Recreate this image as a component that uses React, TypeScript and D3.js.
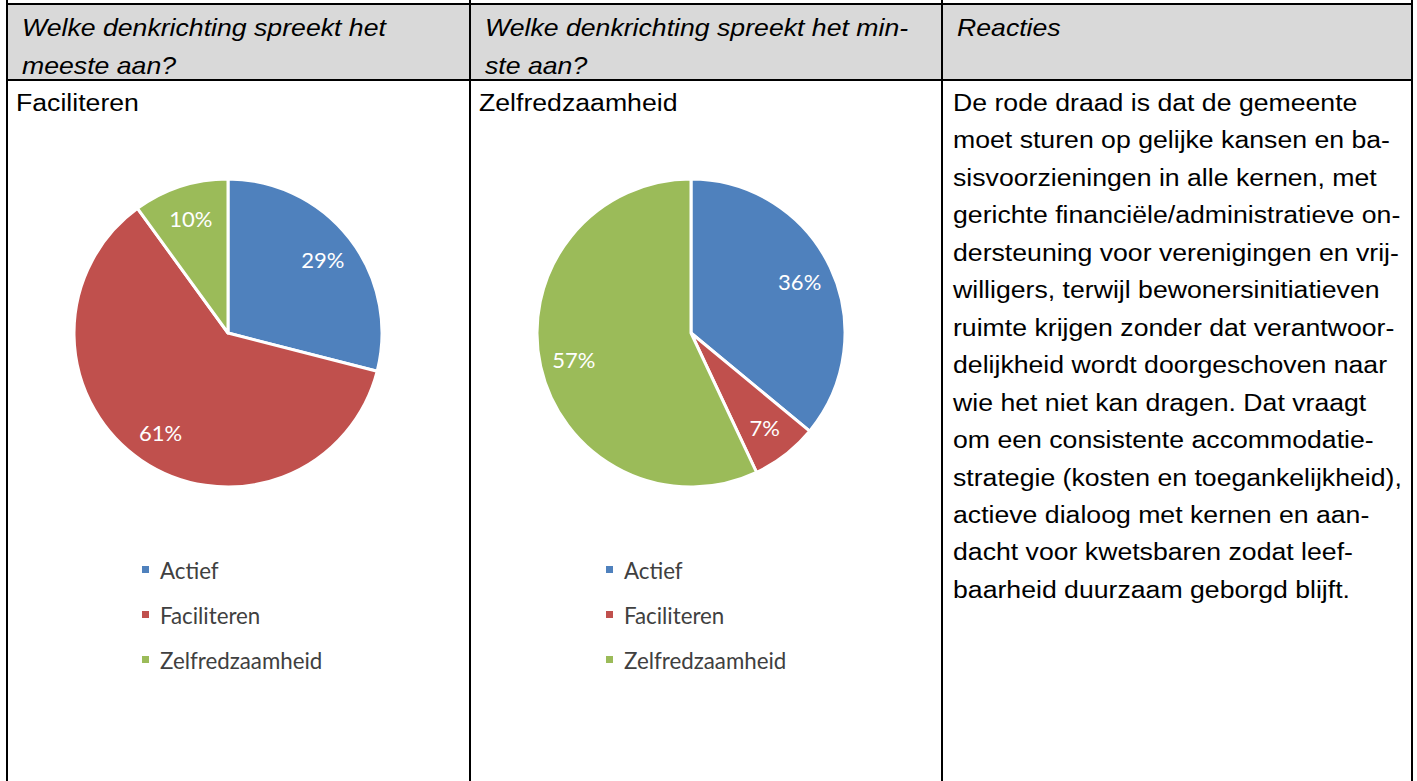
import React, { useEffect, useRef } from 'react';
import * as d3 from 'd3';

const categories = ['Actief', 'Faciliteren', 'Zelfredzaamheid'];
const mostValues = [29, 61, 10];
const leastValues = [36, 7, 57];
const colors = ['#4f81bd', '#c0504d', '#9bbb59'];

const headerLines = [
  ['Welke denkrichting spreekt het', 'meeste aan?'],
  ['Welke denkrichting spreekt het min-', 'ste aan?'],
  ['Reacties'],
];
const answers = ['Faciliteren', 'Zelfredzaamheid'];
const reactionLines = [
  'De rode draad is dat de gemeente',
  'moet sturen op gelijke kansen en ba-',
  'sisvoorzieningen in alle kernen, met',
  'gerichte financiële/administratieve on-',
  'dersteuning voor verenigingen en vrij-',
  'willigers, terwijl bewonersinitiatieven',
  'ruimte krijgen zonder dat verantwoor-',
  'delijkheid wordt doorgeschoven naar',
  'wie het niet kan dragen. Dat vraagt',
  'om een consistente accommodatie-',
  'strategie (kosten en toegankelijkheid),',
  'actieve dialoog met kernen en aan-',
  'dacht voor kwetsbaren zodat leef-',
  'baarheid duurzaam geborgd blijft.',
];

const W = 1417;
const H = 781;
const SX = 1.075; // the scanned text is slightly stretched horizontally

const App = () => {
  const ref = useRef<SVGSVGElement>(null);

  useEffect(() => {
    const svg = d3.select(ref.current);
    svg.selectAll('*').remove();

    const colX = [7, 470, 942, 1412];
    const topY = 4;
    const headY = 80;

    svg
      .append('rect')
      .attr('x', colX[0])
      .attr('y', topY)
      .attr('width', colX[3] - colX[0])
      .attr('height', headY - topY)
      .attr('fill', '#d9d9d9');

    const grid = svg.append('g').attr('stroke', '#000').attr('stroke-width', 2);
    grid.append('line').attr('x1', colX[0]).attr('x2', colX[3]).attr('y1', topY).attr('y2', topY);
    grid.append('line').attr('x1', colX[0]).attr('x2', colX[3]).attr('y1', headY).attr('y2', headY);
    colX.forEach(x => {
      grid.append('line').attr('x1', x).attr('x2', x).attr('y1', 0).attr('y2', H);
    });

    const addText = (x: number, y: number, t: string, italic = false) =>
      svg
        .append('text')
        .attr('transform', `translate(${x},${y}) scale(${SX},1)`)
        .attr('font-family', 'Liberation Sans, Arial, sans-serif')
        .attr('font-style', italic ? 'italic' : 'normal')
        .attr('font-size', 24.8)
        .attr('fill', '#000')
        .text(t);

    headerLines.forEach((lines, i) => {
      lines.forEach((t, j) => addText(colX[i] + 15, 36 + j * 38, t, true));
    });

    answers.forEach((t, i) => addText(colX[i] + 9, 111, t));

    reactionLines.forEach((t, i) => addText(953, 111 + i * 37.45, t));

    // pies
    const r = 154;
    const pie = d3.pie<number>().sort(null).value(d => d);
    const arc = d3.arc<d3.PieArcDatum<number>>().innerRadius(0).outerRadius(r);
    const labelArc = d3.arc<d3.PieArcDatum<number>>().innerRadius(r * 0.78).outerRadius(r * 0.78);

    const pies = [
      { values: mostValues, cx: 228, cy: 333, legendX: 146 },
      { values: leastValues, cx: 691, cy: 333, legendX: 610 },
    ];

    pies.forEach(p => {
      const g = svg.append('g').attr('transform', `translate(${p.cx},${p.cy})`);
      const arcs = pie(p.values);
      g.selectAll('path')
        .data(arcs)
        .join('path')
        .attr('d', arc)
        .attr('fill', (d, i) => colors[i])
        .attr('stroke', '#fff')
        .attr('stroke-width', 3)
        .attr('stroke-linejoin', 'round');
      g.selectAll('text')
        .data(arcs)
        .join('text')
        .attr('transform', d => `translate(${labelArc.centroid(d)})`)
        .attr('text-anchor', 'middle')
        .attr('dominant-baseline', 'central')
        .attr('font-family', 'Lato, Open Sans, sans-serif')
        .attr('font-size', 22)
        .attr('fill', '#fff')
        .text(d => `${d.data}%`);

      const leg = svg.append('g');
      categories.forEach((c, i) => {
        const y = 570 + i * 45;
        leg
          .append('rect')
          .attr('x', p.legendX - 4)
          .attr('y', y - 4)
          .attr('width', 7)
          .attr('height', 7)
          .attr('fill', colors[i]);
        leg
          .append('text')
          .attr('x', p.legendX + 14)
          .attr('y', y)
          .attr('dominant-baseline', 'central')
          .attr('font-family', 'Lato, Open Sans, sans-serif')
          .attr('font-size', 22.3)
          .attr('fill', '#404040')
          .text(c);
      });
    });
  }, []);

  return (
    <svg
      ref={ref}
      width={W}
      height={H}
      style={{ position: 'absolute', left: 0, top: 0, background: '#fff' }}
    ></svg>
  );
};

export default App;
